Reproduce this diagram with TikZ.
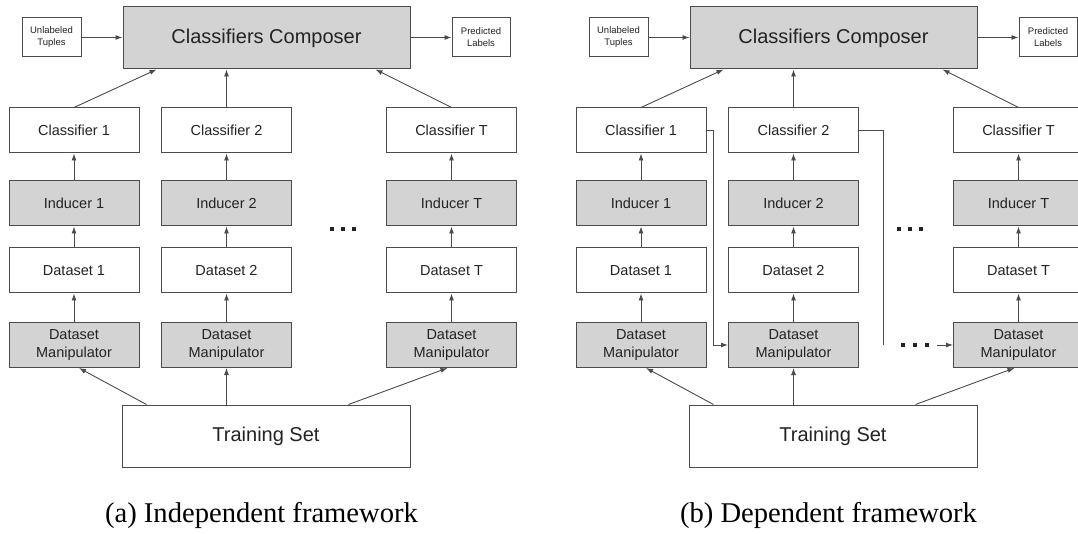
\documentclass[tikz,border=0pt]{standalone}
\usepackage{fontspec}
\setmainfont{Liberation Sans}
\newfontfamily\capfont{Liberation Serif}
\usetikzlibrary{arrows.meta,calc}
\definecolor{boxgray}{RGB}{211,211,211}
\definecolor{linegray}{RGB}{75,75,75}
\definecolor{txt}{RGB}{35,35,35}
\newcommand\drawpanel[1]{%
  \node[gbox,minimum width=287pt,minimum height=62pt,font=\fontsize{20}{24}\selectfont] (#1comp) at (266.5,38) {Classifiers Composer};
  \node[smallbox,minimum width=59pt,minimum height=39pt] (#1ul) at (51.5,37.5) {Unlabeled\\Tuples};
  \node[smallbox,minimum width=58pt,minimum height=39pt] (#1pl) at (481,37.5) {Predicted\\Labels};
  \node[box]  (#1c1) at (74,130.5) {Classifier 1};
  \node[box]  (#1c2) at (226.5,130.5) {Classifier 2};
  \node[box]  (#1cT) at (451.5,130.5) {Classifier T};
  \node[gbox] (#1i1) at (74,203.5) {Inducer 1};
  \node[gbox] (#1i2) at (226.5,203.5) {Inducer 2};
  \node[gbox] (#1iT) at (451.5,203.5) {Inducer T};
  \node[box]  (#1d1) at (74,270.5) {Dataset 1};
  \node[box]  (#1d2) at (226.5,270.5) {Dataset 2};
  \node[box]  (#1dT) at (451.5,270.5) {Dataset T};
  \node[gbox] (#1m1) at (74,345) {Dataset\\Manipulator};
  \node[gbox] (#1m2) at (226.5,345) {Dataset\\Manipulator};
  \node[gbox] (#1mT) at (451.5,345) {Dataset\\Manipulator};
  \node[box,minimum width=288pt,minimum height=62pt,font=\fontsize{20}{24}\selectfont] (#1ts) at (266,436) {Training Set};
  \draw[arr] (#1ul.east) -- (#1ul.east -| #1comp.west);
  \draw[arr] (#1comp.east |- #1pl.west) -- (#1pl.west);
  \draw[arr] (#1c1.north) -- ($(#1comp.south west)+(34,0)$);
  \draw[arr] (#1c2.north) -- (#1c2.north |- #1comp.south);
  \draw[arr] (#1cT.north) -- ($(#1comp.south east)+(-35,0)$);
  \foreach \k in {1,2,T}{
    \draw[arr] (#1i\k.north) -- (#1c\k.south);
    \draw[arr] (#1d\k.north) -- (#1i\k.south);
    \draw[arr] (#1m\k.north) -- (#1d\k.south);
  }
  \draw[arr] ($(#1ts.north west)+(25,0)$) -- ($(#1m1.south)+(5,0)$);
  \draw[arr] (#1m2.south |- #1ts.north) -- (#1m2.south);
  \draw[arr] ($(#1ts.north east)+(-62,0)$) -- ($(#1mT.south)+(-4,0)$);
  \foreach \xx in {332,343,354}{\fill[dotfill] (\xx-2,227) rectangle (\xx+2,231);}
}
\begin{document}
\begin{tikzpicture}[x=1pt,y=-1pt,
  box/.style={draw=linegray,line width=1pt,fill=white,minimum width=130pt,minimum height=45pt,inner sep=0pt,align=center,text=txt,font=\fontsize{14.5}{18}\selectfont},
  gbox/.style={box,fill=boxgray},
  smallbox/.style={draw=linegray,line width=1pt,fill=white,inner sep=0pt,align=center,text=txt,font=\fontsize{9.5}{12}\selectfont},
  arr/.style={draw=linegray,line width=0.9pt,-{Latex[length=7pt,width=5pt]}},
  plain/.style={draw=linegray,line width=0.9pt},
  dotfill/.style={fill=txt},
  captxt/.style={font=\capfont\fontsize{28.6}{32}\selectfont,text=black,anchor=base}
]
\useasboundingbox (0,0) rectangle (1078,534);
\clip (0,0) rectangle (1078,534);
\fill[white] (0,0) rectangle (1078,534);
\begin{scope}
  \drawpanel{L}
  \node[captxt] (capa) at (261.5,522) {(a) Independent framework};
\end{scope}
\begin{scope}[xshift=567pt]
  \drawpanel{R}
  \coordinate (Rend) at (316,345);
  \coordinate (Rstart) at (370,345);
  \draw[arr] (Rc1.east) -- ++(7,0) |- (Rm2.west);
  \draw[plain] (Rc2.east) -| (Rend);
  \foreach \xx in {336,348,360}{\fill[dotfill] (\xx-2,343) rectangle (\xx+2,347);}
  \draw[arr] (Rstart) -- (RmT.west);
  \node[captxt] (capb) at (261.5,522) {(b) Dependent framework};
\end{scope}
\end{tikzpicture}
\end{document}
